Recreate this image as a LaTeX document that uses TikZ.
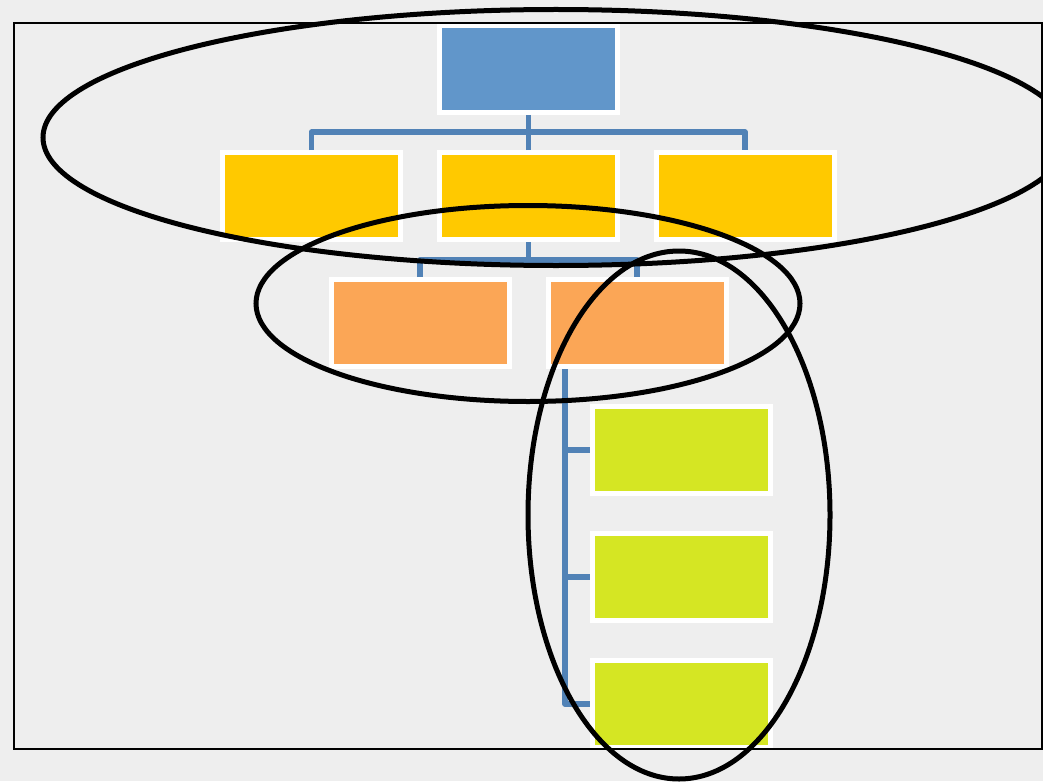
\documentclass[tikz,border=0pt]{standalone}
\begin{document}
\begin{tikzpicture}[x=1pt,y=-1pt,
  box/.style={draw=white,line width=5pt,minimum width=178pt,minimum height=87pt,inner sep=0pt},
  lvlA/.style={box,fill=bluebox},
  lvlB/.style={box,fill=yellowbox},
  lvlC/.style={box,fill=orangebox},
  lvlD/.style={box,fill=greenbox},
  conn/.style={draw=connblue,line width=5.5pt,line join=round,line cap=butt},
  ring/.style={draw=black,line width=5pt}]
\definecolor{bg}{HTML}{EEEEEE}
\definecolor{bluebox}{HTML}{6196CA}
\definecolor{yellowbox}{HTML}{FFC900}
\definecolor{orangebox}{HTML}{FBA656}
\definecolor{greenbox}{HTML}{D5E623}
\definecolor{connblue}{HTML}{5182B6}
\useasboundingbox (0,0) rectangle (1043,781);
\clip (0,0) rectangle (1043,781);
\fill[bg] (0,0) rectangle (1043,781);

\node[lvlA] (top) at (528.5,69) {};
\node[lvlB] (y1) at (311.5,196) {};
\node[lvlB] (y2) at (528.5,196) {};
\node[lvlB] (y3) at (745,196) {};
\node[lvlC] (o1) at (420,323) {};
\node[lvlC] (o2) at (637,323) {};
\node[lvlD] (g1) at (681.5,450) {};
\node[lvlD] (g2) at (681.5,577) {};
\node[lvlD] (g3) at (681.5,704) {};

\coordinate (bus1) at (0,132);
\coordinate (bus2) at (0,260);
\coordinate (trunk) at (565,0);

\draw[conn] (top.south) -- (top.south |- bus1);
\draw[conn] (y1.north) -- (y1.north |- bus1) -- (y3.north |- bus1) -- (y3.north);
\draw[conn] (y2.north) -- (y2.north |- bus1);
\draw[conn] (y2.south) -- (y2.south |- bus2);
\draw[conn] (o1.north) -- (o1.north |- bus2) -- (o2.north |- bus2) -- (o2.north);
\draw[conn] (trunk |- o2.south) -- (trunk |- g3.west) -- (g3.west);
\draw[conn] (trunk |- g1.west) -- (g1.west);
\draw[conn] (trunk |- g2.west) -- (g2.west);

\draw[black,line width=1.5pt] (14,23) rectangle (1042,749);

\draw[ring] (556,137.5) ellipse [x radius=513pt, y radius=128pt];
\draw[ring] (528,303.5) ellipse [x radius=272pt, y radius=98pt];
\draw[ring] (679,515) ellipse [x radius=151pt, y radius=264pt];
\end{tikzpicture}
\end{document}
